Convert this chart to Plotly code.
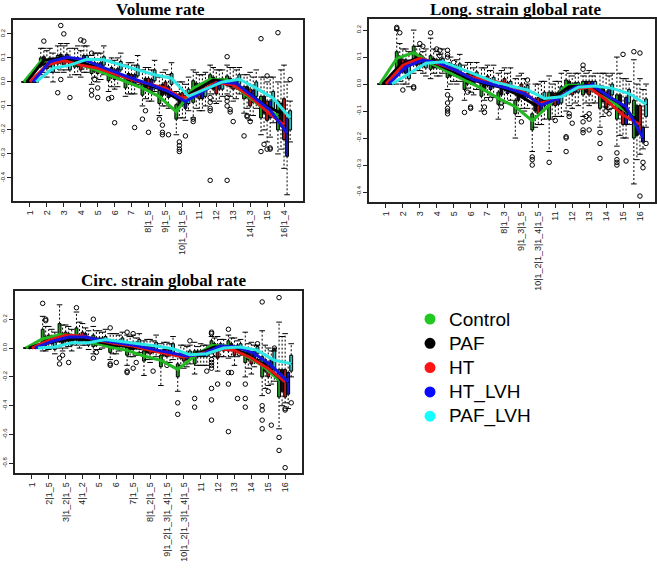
import plotly.graph_objects as go

# groups, in drawing order
groups = ["Control", "PAF", "HT", "HT_LVH", "PAF_LVH"]
line_colors = ["#22b822", "#000000", "#e81414", "#1414e0", "#2ee8e8"]
box_colors = ["#1f9a1f", "#111111", "#b81818", "#1a1ab8", "#36bcbc"]
dot_colors = ["#22c822", "#000000", "#ff1414", "#0a0aff", "#14ffff"]
group_offsets = [-0.36, -0.18, 0.0, 0.18, 0.36]
cats = list(range(1, 17))

# ---------------- Volume rate ----------------
vol_ticks = ["1", "2", "3", "4", "5", "6", "7", "8|1_5", "9|1_5", "10|1_3|1_5",
             "11", "12", "13", "14|1_3", "15", "16|1_4"]
vol_yticks = [0.2, 0.1, 0.0, -0.1, -0.2, -0.3, -0.4]
vol_med = [
    [0, .085, .094, .080, .057, .030, .000, -.026, -.061, -.124, -.026, .011, .008, -.047, -.103, -.140],
    [0, .090, .100, .085, .064, .040, .015, -.006, -.033, -.075, -.033, .008, .000, -.040, -.096, -.130],
    [0, .070, .089, .070, .057, .033, .011, -.008, -.026, -.068, -.040, -.003, -.012, -.061, -.124, -.180],
    [0, .085, .103, .094, .064, .036, .011, -.012, -.040, -.082, -.040, .000, -.006, -.061, -.117, -.214],
    [0, .057, .070, .094, .092, .070, .050, .030, .015, -.060, -.030, .000, .011, -.026, -.068, -.150],
]
vol_q1 = [
    [0, .065, .075, .062, .035, .005, -.025, -.055, -.090, -.155, -.085, -.020, -.015, -.070, -.150, -.200],
    [0, .070, .080, .065, .045, .020, -.005, -.025, -.055, -.100, -.060, -.030, -.020, -.065, -.130, -.180],
    [0, .055, .070, .050, .035, .010, -.010, -.030, -.050, -.095, -.070, -.050, -.030, -.100, -.160, -.240],
    [0, .065, .085, .075, .045, .015, -.010, -.035, -.065, -.110, -.070, -.030, -.025, -.085, -.150, -.310],
    [0, .040, .050, .075, .070, .050, .025, .005, -.010, -.090, -.060, -.030, -.010, -.060, -.110, -.200],
]
vol_q3 = [
    [0, .100, .110, .098, .075, .050, .020, -.005, -.035, -.095, .005, .030, .025, -.020, -.060, -.080],
    [0, .105, .115, .100, .080, .060, .035, .015, -.010, -.050, -.005, .020, .015, -.020, -.060, -.090],
    [0, .090, .105, .090, .075, .050, .030, .015, .000, -.045, -.010, .000, .005, -.030, -.080, -.070],
    [0, .100, .115, .110, .080, .055, .030, .010, -.020, -.060, -.010, .010, .010, -.035, -.080, -.150],
    [0, .080, .090, .110, .105, .085, .070, .050, .035, -.030, -.005, .015, .030, .000, -.040, -.120],
]
vol_lo = [
    [0, .030, .040, .030, -.010, -.040, -.060, -.100, -.140, -.220, -.150, -.050, -.050, -.130, -.220, -.300],
    [0, .040, .050, .030, .020, -.020, -.050, -.070, -.100, -.150, -.110, -.080, -.060, -.110, -.200, -.280],
    [0, .020, .040, .020, .000, -.030, -.050, -.080, -.100, -.150, -.120, -.090, -.080, -.160, -.250, -.360],
    [0, .040, .050, .040, .010, -.020, -.050, -.080, -.110, -.160, -.120, -.080, -.070, -.140, -.230, -.470],
    [0, .000, .020, .040, .030, .010, -.010, -.040, -.060, -.120, -.100, -.060, -.050, -.110, -.170, -.250],
]
vol_hi = [
    [0, .140, .150, .140, .110, .090, .070, .050, .020, -.040, .050, .070, .070, .030, .020, .000],
    [0, .140, .160, .150, .120, .100, .080, .060, .040, .000, .040, .060, .060, .030, .020, .050],
    [0, .130, .150, .130, .120, .090, .080, .060, .050, .000, .030, .050, .060, .040, .000, .070],
    [0, .140, .160, .150, .120, .100, .070, .050, .030, -.010, .030, .050, .050, .020, .020, .000],
    [0, .120, .140, .150, .150, .120, .110, .090, .080, .020, .040, .050, .060, .050, .020, -.080],
]
vol_out_cat = [2, 3, 3, 3, 3, 3, 4, 4, 5, 5, 5, 5, 5, 5, 6, 6, 6, 7, 8, 8, 8,
               9, 9, 9, 9, 9, 10, 10, 10, 10, 10, 11, 11, 12, 12, 12, 12, 12,
               13, 13, 13, 13, 13, 13, 13, 13, 14, 14, 14, 14,
               15, 15, 15, 15, 15, 15, 15, 16, 16]
vol_out_grp = [1, 1, 2, 0, 1, 4, 2, 3, 0, 0, 0, 2, 2, 1, 0, 1, 2, 3, 0, 1, 2,
               0, 1, 1, 1, 3, 1, 1, 1, 1, 3, 0, 0, 0, 0, 0, 0, 0,
               0, 0, 1, 1, 2, 0, 0, 0, 0, 1, 1, 2,
               0, 0, 1, 2, 3, 3, 2, 0, 4]
vol_out_val = [.17, .235, .20, -.045, .01, -.065, .175, .17, .12, -.035, -.055, -.025, -.065, .01,
               -.07, -.065, -.17, -.19, -.155, -.12, -.21,
               -.155, -.18, -.21, -.22, -.22, -.25, -.265, -.28, -.29, -.225, -.155, -.165,
               -.41, -.11, -.12, -.085, -.065,
               .105, -.41, -.115, -.125, -.165, -.065, -.08, -.10, -.225, -.14, -.145, -.165,
               .18, -.29, -.26, -.28, -.28, -.275, .025, .205, .01]

# ---------------- Long. strain global rate ----------------
long_ticks = ["1", "2", "3", "4", "5", "6", "7", "8|1_3", "9|1_3|1_5", "10|1_2|1_3|1_4|1_5",
              "11", "12", "13", "14", "15", "16"]
long_yticks = [0.2, 0.1, 0.0, -0.1, -0.2, -0.3, -0.4]
long_med = [
    [0, .095, .116, .077, .046, .015, -.016, -.053, -.084, -.136, -.078, -.004, -.004, -.035, -.078, -.120],
    [0, .070, .095, .079, .052, .021, .002, -.012, -.040, -.078, -.053, -.010, -.007, -.035, -.072, -.140],
    [0, .070, .095, .077, .054, .025, .015, .002, -.022, -.072, -.059, -.020, -.012, -.059, -.115, -.150],
    [0, .064, .089, .077, .049, .017, .000, -.016, -.035, -.078, -.053, -.012, -.004, -.047, -.084, -.200],
    [0, .040, .077, .083, .058, .033, .009, -.007, -.022, -.053, -.047, -.012, -.007, -.016, -.035, -.075],
]
long_q1 = [
    [0, .060, .085, .055, .025, -.020, -.045, -.075, -.110, -.170, -.130, -.040, -.040, -.090, -.130, -.200],
    [0, .050, .070, .060, .030, .000, -.020, -.040, -.060, -.100, -.075, -.035, -.030, -.065, -.110, -.190],
    [0, .045, .075, .060, .035, .005, -.005, -.020, -.045, -.110, -.080, -.040, -.040, -.090, -.150, -.180],
    [0, .040, .065, .060, .030, .000, -.020, -.035, -.055, -.100, -.075, -.030, -.025, -.075, -.150, -.215],
    [0, .020, .060, .065, .040, .015, -.010, -.025, -.045, -.080, -.070, -.030, -.030, -.040, -.070, -.120],
]
long_q3 = [
    [0, .120, .140, .105, .060, .030, .005, -.030, -.060, -.110, -.030, .015, .010, -.005, -.040, -.060],
    [0, .100, .110, .095, .070, .040, .020, .010, -.015, -.055, -.030, .010, .010, -.010, -.040, -.080],
    [0, .090, .110, .090, .070, .040, .030, .020, .000, -.050, -.035, .000, .010, -.030, -.080, -.080],
    [0, .090, .100, .090, .065, .035, .015, .005, -.015, -.055, -.030, .005, .010, -.020, -.050, -.160],
    [0, .070, .090, .095, .075, .045, .025, .010, -.005, -.030, -.010, .005, .010, .000, -.020, -.055],
]
long_lo = [
    [0, .000, .040, .020, -.020, -.060, -.100, -.130, -.200, -.250, -.250, -.100, -.120, -.160, -.230, -.370],
    [0, .010, .050, .040, .000, -.015, -.060, -.060, -.120, -.160, -.130, -.080, -.070, -.120, -.190, -.280],
    [0, .000, .050, .030, .010, -.030, -.050, -.070, -.090, -.150, -.120, -.090, -.080, -.085, -.200, -.260],
    [0, .000, .040, .030, .000, -.040, -.040, -.070, -.100, -.150, -.120, -.070, -.070, -.095, -.200, -.240],
    [0, -.010, .030, .040, .010, -.020, -.050, -.060, -.090, -.130, -.120, -.080, -.070, -.090, -.150, -.160],
]
long_hi = [
    [0, .200, .200, .170, .080, .070, .060, .040, .020, -.030, .030, .050, .030, .040, .100, .090],
    [0, .150, .140, .130, .100, .080, .060, .050, .030, .000, .000, .040, .040, .040, .040, .000],
    [0, .130, .140, .120, .070, .080, .070, .060, .040, .000, .010, .030, .050, .040, .020, .020],
    [0, .130, .120, .110, .090, .060, .050, .040, .020, .010, .010, .040, .030, .030, .020, -.020],
    [0, .120, .130, .130, .110, .080, .070, .060, .000, .010, .040, .040, .040, .040, .010, .000],
]
long_out_cat = [2, 2, 2, 2, 3, 3, 3, 3, 4, 4, 4, 4,
                5, 5, 5, 5, 5, 5, 5, 5, 5, 5, 6, 6, 6, 6, 7, 7, 7, 8, 8, 9, 9,
                10, 10, 10, 11, 11, 12, 12, 12, 12, 12, 12,
                13, 13, 13, 13, 13, 13, 13, 13, 13, 14, 14, 14, 14, 14,
                15, 15, 15, 15, 15, 15, 16, 16, 16, 16, 16, 16]
long_out_grp = [0, 0, 1, 2, 0, 0, 2, 3, 0, 2, 3, 3,
                0, 0, 0, 0, 0, 0, 0, 0, 1, 2, 0, 1, 2, 2, 1, 1, 3, 1, 1, 2, 4,
                0, 0, 0, 0, 2, 0, 0, 0, 1, 1, 2,
                0, 0, 0, 0, 0, 1, 2, 2, 2, 0, 0, 0, 2, 3,
                0, 0, 0, 0, 2, 3, 0, 2, 2, 3, 3, 4]
long_out_val = [.21, .205, .19, -.022, -.01, -.015, .15, .14, .19, .13, .125, .105,
                .125, .11, .10, -.04, -.07, -.09, -.10, -.11, -.055, .08,
                -.105, -.03, -.085, -.09, -.085, -.105, -.055, -.07, -.085, -.14, .015,
                -.27, -.28, -.30, -.29, -.135, -.20, -.195, -.25, -.11, -.12, -.145,
                .07, .055, -.14, -.17, -.18, -.12, -.17, -.13, -.11,
                -.18, -.22, -.275, -.10, -.11,
                -.255, -.28, -.29, -.30, .11, -.285, .12, .115, -.415, -.29, -.31, -.22]

# ---------------- Circ. strain global rate ----------------
circ_ticks = ["1", "2|1_5", "3|1_2|1_5", "4|1_2", "5", "6", "7|1_5", "8|1_2|1_5",
              "9|1_2|1_3|1_4|1_5", "10|1_2|1_3|1_4|1_5", "11", "12", "13", "14", "15", "16"]
circ_yticks = [0.2, 0.0, -0.2, -0.4, -0.6, -0.8]
circ_med = [
    [0, .065, .092, .088, .037, .007, -.016, -.055, -.085, -.148, -.055, .018, .014, -.051, -.120, -.224],
    [0, .040, .053, .065, .046, .023, .007, -.009, -.028, -.051, -.039, .007, .007, -.051, -.120, -.224],
    [0, .053, .088, .083, .053, .030, .014, -.016, -.039, -.062, -.039, -.005, -.016, -.069, -.143, -.235],
    [0, .046, .076, .076, .053, .037, .018, -.009, -.032, -.055, -.039, .014, .007, -.039, -.120, -.235],
    [0, .007, .037, .037, .060, .046, .030, .014, -.005, -.046, -.039, .000, .007, -.016, -.085, -.108],
]
circ_q1 = [
    [0, .030, .050, .060, .010, -.030, -.050, -.090, -.130, -.200, -.110, -.020, -.020, -.100, -.200, -.340],
    [0, .020, .030, .040, .020, .000, -.010, -.030, -.050, -.070, -.060, -.020, -.010, -.080, -.160, -.300],
    [0, .030, .050, .050, .030, .010, -.010, -.040, -.060, -.090, -.060, -.070, -.050, -.110, -.200, -.340],
    [0, .030, .050, .050, .030, .015, .000, -.030, -.050, -.080, -.060, -.010, -.010, -.070, -.170, -.320],
    [0, -.010, .020, .020, .040, .030, .010, -.010, -.030, -.070, -.060, -.020, -.010, -.040, -.150, -.160],
]
circ_q3 = [
    [0, .130, .170, .140, .090, .050, .020, -.020, -.050, -.110, -.020, .050, .050, -.010, -.060, -.150],
    [0, .080, .100, .090, .070, .050, .030, .010, -.010, -.030, -.020, .030, .030, -.030, -.080, -.150],
    [0, .090, .110, .110, .070, .050, .040, .010, -.010, -.040, -.020, .020, .010, -.040, -.100, -.150],
    [0, .080, .100, .100, .070, .050, .035, .010, -.010, -.030, -.020, .030, .020, -.020, -.080, -.170],
    [0, .040, .060, .060, .080, .070, .060, .040, .030, -.020, -.020, .020, .030, .010, .000, -.050],
]
circ_lo = [
    [0, -.020, .000, .020, -.040, -.080, -.120, -.190, -.260, -.300, -.180, -.040, -.070, -.200, -.330, -.560],
    [0, -.020, -.020, .000, -.010, -.040, -.060, -.080, -.100, -.120, -.120, -.060, -.060, -.140, -.280, -.400],
    [0, -.010, .000, .020, -.010, -.040, -.060, -.100, -.100, -.140, -.120, -.160, -.120, -.180, -.260, -.380],
    [0, .000, .010, .020, .000, -.020, -.050, -.080, -.100, -.130, -.120, -.060, -.060, -.130, -.250, -.420],
    [0, -.040, -.020, -.010, .010, -.010, -.030, -.060, -.080, -.110, -.120, -.060, -.050, -.080, -.230, -.200],
]
circ_hi = [
    [0, .220, .300, .250, .150, .100, .090, .050, .030, -.060, .040, .080, .090, .110, .120, .180],
    [0, .150, .160, .180, .120, .100, .080, .060, .040, .020, .010, .070, .070, .030, .020, .080],
    [0, .150, .160, .170, .120, .100, .090, .060, .040, .020, .030, .080, .070, .040, .000, .100],
    [0, .130, .150, .140, .110, .090, .070, .050, .030, .010, .020, .060, .050, .020, -.020, -.100],
    [0, .110, .130, .120, .130, .110, .100, .090, .080, .020, .020, .060, .060, .020, -.020, .030],
]
circ_out_cat = [2, 2, 2, 3, 3, 3, 3, 4, 5, 5, 5, 6, 6, 6, 6, 7, 7, 7, 7, 7, 7, 8, 9,
                10, 10, 10, 11, 11, 11, 12, 12, 12, 12, 12, 12, 12, 12, 12, 12, 12,
                13, 13, 13, 13, 13, 13, 14, 14, 14, 14,
                15, 15, 15, 15, 15, 15, 15, 15, 16, 16, 16, 16, 16, 16, 16]
circ_out_grp = [0, 1, 1, 0, 0, 1, 3, 0, 0, 0, 1, 0, 0, 0, 2, 0, 2, 3, 0, 0, 2, 3, 2,
                0, 0, 4, 0, 0, 4, 0, 0, 0, 0, 0, 0, 0, 0, 0, 0, 2,
                0, 0, 0, 0, 1, 3, 0, 0, 0, 4,
                0, 0, 0, 0, 0, 2, 3, 4, 0, 0, 0, 2, 2, 2, 4]
circ_out_val = [.31, .19, .20, -.11, -.07, -.05, -.10, .28, .20, -.07, -.03, .14, -.11, -.12, -.10,
                .11, .10, -.10, -.16, -.17, -.14, -.16, -.12,
                -.38, -.46, .05, -.35, -.41, -.16,
                .11, .10, -.28, -.36, -.50, -.05, -.08, -.10, -.12, -.14, -.25,
                .13, -.17, -.25, -.58, -.17, -.35, -.25, -.35, -.41, .03,
                .32, -.40, -.43, -.50, -.56, -.30, -.535, .00,
                .35, -.62, -.71, -.42, -.43, -.83, -.38]

panels = [
    dict(title="Volume rate", ticks=vol_ticks, yt=vol_yticks, med=vol_med, q1=vol_q1, q3=vol_q3,
         lo=vol_lo, hi=vol_hi, oc=vol_out_cat, og=vol_out_grp, ov=vol_out_val,
         xr=[0.0, 17.12], yr=[-0.496, 0.258], xd=[0.0198, 0.4612], yd=[0.6480, 0.9650],
         tx=0.245, ty=0.984),
    dict(title="Long. strain global rate", ticks=long_ticks, yt=long_yticks, med=long_med, q1=long_q1,
         q3=long_q3, lo=long_lo, hi=long_hi, oc=long_out_cat, og=long_out_grp, ov=long_out_val,
         xr=[0.0, 16.89], yr=[-0.437, 0.241], xd=[0.5616, 0.9970], yd=[0.6462, 0.9667],
         tx=0.785, ty=0.984),
    dict(title="Circ. strain global rate", ticks=circ_ticks, yt=circ_yticks, med=circ_med, q1=circ_q1,
         q3=circ_q3, lo=circ_lo, hi=circ_hi, oc=circ_out_cat, og=circ_out_grp, ov=circ_out_val,
         xr=[0.0, 17.0], yr=[-0.867, 0.396], xd=[0.0228, 0.4597], yd=[0.1716, 0.4904],
         tx=0.2496, ty=0.5096),
]

fig = go.Figure()
layout = {}
annotations = []
for n, p in enumerate(panels):
    sfx = "" if n == 0 else str(n + 1)
    xa, ya = "x" + sfx, "y" + sfx
    for g in range(5):
        xs = [c + group_offsets[g] for c in cats]
        # dashed whiskers
        wx, wy = [], []
        for i, x in enumerate(xs):
            wx += [x, x, None, x, x, None]
            wy += [p["q3"][g][i], p["hi"][g][i], None, p["q1"][g][i], p["lo"][g][i], None]
        fig.add_trace(go.Scatter(x=wx, y=wy, mode="lines", xaxis=xa, yaxis=ya,
                                 line=dict(color="black", width=1, dash="2px,2px"),
                                 showlegend=False, hoverinfo="skip"))
        # whisker caps
        fig.add_trace(go.Scatter(x=xs + xs, y=p["hi"][g] + p["lo"][g], mode="markers",
                                 xaxis=xa, yaxis=ya, showlegend=False, hoverinfo="skip",
                                 marker=dict(symbol="line-ew", size=4, line=dict(color="black", width=1))))
        # boxes
        fig.add_trace(go.Box(x=xs, q1=p["q1"][g], median=p["med"][g], q3=p["q3"][g],
                             lowerfence=p["q1"][g], upperfence=p["q3"][g], width=0.17,
                             whiskerwidth=0, fillcolor=box_colors[g],
                             line=dict(color="black", width=1), boxpoints=False,
                             xaxis=xa, yaxis=ya, showlegend=False, hoverinfo="skip"))
    # outliers
    ox = [c + group_offsets[g] for c, g in zip(p["oc"], p["og"])]
    fig.add_trace(go.Scatter(x=ox, y=p["ov"], mode="markers", xaxis=xa, yaxis=ya,
                             marker=dict(symbol="circle-open", size=4.5, color="black",
                                         line=dict(width=1)),
                             showlegend=False, hoverinfo="skip"))
    # median lines
    for g in range(5):
        xs = [c + group_offsets[g] for c in cats]
        fig.add_trace(go.Scatter(x=xs, y=p["med"][g], mode="lines", xaxis=xa, yaxis=ya,
                                 line=dict(color=line_colors[g], width=3),
                                 showlegend=False, hoverinfo="skip"))

    common = dict(showline=True, mirror=True, linecolor="#222", linewidth=1.5,
                  ticks="outside", ticklen=4, tickcolor="#222", showgrid=False,
                  zeroline=False, automargin=False)
    layout["xaxis" + sfx] = dict(common, domain=p["xd"], range=p["xr"], anchor=ya,
                                 tickvals=cats, ticktext=p["ticks"], tickangle=-90,
                                 tickfont=dict(family="Liberation Sans", size=9, color="#222"))
    layout["yaxis" + sfx] = dict(common, domain=p["yd"], range=p["yr"], anchor=xa,
                                 tickvals=p["yt"], ticktext=["%.1f" % v for v in p["yt"]],
                                 tickangle=-90,
                                 tickfont=dict(family="Liberation Sans", size=6, color="#222"))
    annotations.append(dict(text="<b>%s</b>" % p["title"], x=p["tx"], y=p["ty"],
                            xref="paper", yref="paper", xanchor="center", yanchor="middle",
                            showarrow=False,
                            font=dict(family="Liberation Serif", size=17, color="black")))

# legend: coloured dots with group names
shapes = []
for g in range(5):
    ly = 1 - (319 + g * 24.3) / 571
    shapes.append(dict(type="circle", xref="paper", yref="paper", xsizemode="pixel",
                       ysizemode="pixel", xanchor=430 / 657, yanchor=ly,
                       x0=-5.5, x1=5.5, y0=-5.5, y1=5.5,
                       fillcolor=dot_colors[g], line=dict(width=0)))
    annotations.append(dict(text=groups[g], x=447 / 657, y=ly, xref="paper", yref="paper",
                            xanchor="left", yanchor="middle", showarrow=False,
                            font=dict(family="Liberation Sans", size=19, color="black")))

fig.update_layout(**layout)
fig.update_layout(
    width=657, height=571,
    margin=dict(l=0, r=0, t=0, b=0),
    paper_bgcolor="white", plot_bgcolor="white",
    showlegend=False,
    annotations=annotations,
    shapes=shapes,
)

# the page's default body margin would shift the figure by 8px
fig.write_html("out.html", config={"displayModeBar": False},
               post_script="document.body.style.margin='0px';")
